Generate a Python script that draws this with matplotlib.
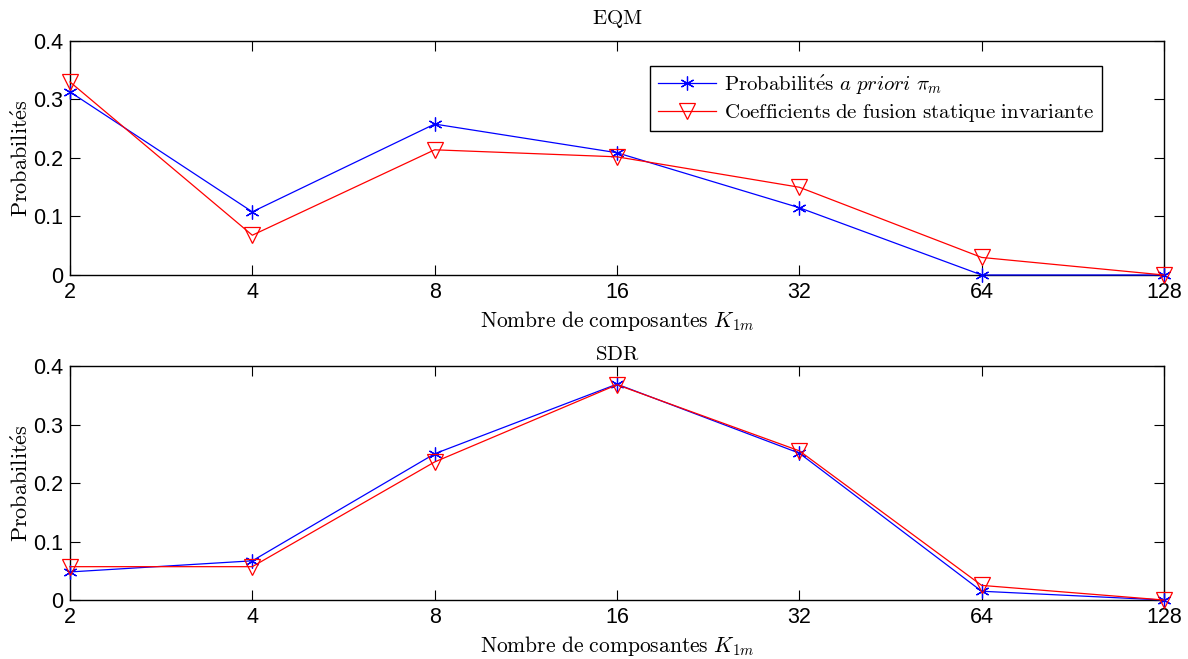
import matplotlib.pyplot as plt
import numpy as np

plt.rcParams['mathtext.fontset'] = 'cm'
plt.rcParams['font.family'] = ['Liberation Sans', 'DejaVu Sans']

K = [2, 4, 8, 16, 32, 64, 128]

eqm_prior = [0.313, 0.108, 0.258, 0.209, 0.115, 0.0, 0.0]
eqm_fusion = [0.330, 0.068, 0.214, 0.202, 0.150, 0.030, 0.0]

sdr_prior = [0.048, 0.067, 0.250, 0.369, 0.251, 0.015, 0.0]
sdr_fusion = [0.057, 0.057, 0.236, 0.368, 0.255, 0.025, 0.0]

titles = ['EQM', 'SDR']
lbl_prior = r'$\mathrm{Probabilit\acute{e}s}\ a\ priori\ \pi_m$'
lbl_fusion = r'$\mathrm{Coefficients\ de\ fusion\ statique\ invariante}$'
xlab = r'$\mathrm{Nombre\ de\ composantes}\ K_{1m}$'
ylab = r'$\mathrm{Probabilit\acute{e}s}$'

fig = plt.figure(figsize=(11.88, 6.59), dpi=100)
ax1 = fig.add_axes([0.0589, 0.5827, 0.9209, 0.3551])
ax2 = fig.add_axes([0.0589, 0.0895, 0.9209, 0.3551])

for ax, yp, yf, t, tpad in [(ax1, eqm_prior, eqm_fusion, titles[0], 12),
                            (ax2, sdr_prior, sdr_fusion, titles[1], 4)]:
    ax.plot(K, yp, color='b', lw=0.9, marker=(6, 2, 0), ms=10, mew=0.9,
            label=lbl_prior, clip_on=False, zorder=3)
    ax.plot(K, yf, color='r', lw=0.9, marker='v', ms=11, mfc='none', mew=0.9,
            label=lbl_fusion, clip_on=False, zorder=3)
    ax.set_xscale('log', base=2)
    ax.set_xlim(2, 128)
    ax.set_ylim(0, 0.4)
    ax.set_xticks(K)
    ax.set_xticklabels([str(k) for k in K])
    ax.set_yticks([0, 0.1, 0.2, 0.3, 0.4])
    ax.set_yticklabels(['0', '0.1', '0.2', '0.3', '0.4'])
    ax.minorticks_off()
    ax.tick_params(direction='in', top=True, right=True, length=7, width=0.8,
                   labelsize=15.5, pad=5)
    for s in ax.spines.values():
        s.set_linewidth(1.0)
    ax.set_title(r'$\mathrm{' + t + '}$', fontsize=15, pad=tpad)
    ax.set_xlabel(xlab, fontsize=15.5, labelpad=4)
    ax.set_ylabel(ylab, fontsize=16, labelpad=0)

leg = ax1.legend(loc='upper right', bbox_to_anchor=(0.9433, 0.893), fontsize=15,
                 frameon=True, fancybox=False, edgecolor='k', framealpha=1,
                 handlelength=2.8, borderpad=0.35, labelspacing=0.25,
                 handletextpad=0.4, borderaxespad=0)
leg.get_frame().set_linewidth(1.0)

fig.savefig('out.png', dpi=100)
